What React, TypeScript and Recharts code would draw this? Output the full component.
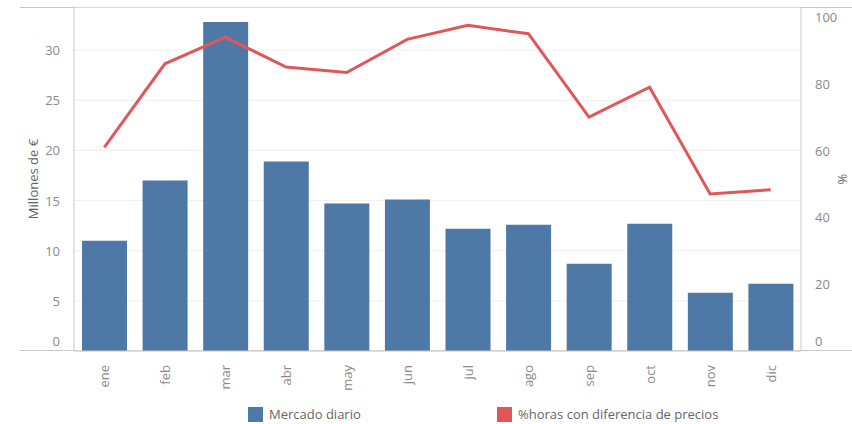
import {
  ComposedChart,
  Bar,
  Line,
  XAxis,
  YAxis,
  CartesianGrid,
  Legend,
} from "recharts";

const months = ["ene", "feb", "mar", "abr", "may", "jun", "jul", "ago", "sep", "oct", "nov", "dic"];
const mercadoDiario = [11.0, 17.0, 32.8, 18.9, 14.7, 15.1, 12.2, 12.6, 8.7, 12.7, 5.8, 6.7];
const horasDiferencia = [61, 86, 94, 85, 83.4, 93.3, 97.5, 95, 70, 79, 47, 48.3];
const leftTicks = [0, 5, 10, 15, 20, 25, 30];
const rightTicks = [0, 20, 40, 60, 80, 100];

const data = months.map((m, i) => ({
  month: m,
  mercado: mercadoDiario[i],
  horas: horasDiferencia[i],
}));

const FONT = "'Open Sans', sans-serif";
const BLUE = "#4e79a7";
const RED = "#e15759";
const AXIS = "#c8c8c8";
const TEXT = "#8a8a8a";

function LeftTick({ x, y, payload }: any) {
  const dy = payload.value === 0 ? -10 : 0;
  return (
    <text x={x - 6} y={y + dy} textAnchor="end" dominantBaseline="central" fill={TEXT} fontSize={13} fontFamily={FONT}>
      {payload.value}
    </text>
  );
}

function RightTick({ x, y, payload }: any) {
  const dy = payload.value === 0 ? -10 : 0;
  return (
    <text x={x + 6} y={y + dy} textAnchor="start" dominantBaseline="central" fill={TEXT} fontSize={13} fontFamily={FONT}>
      {payload.value}
    </text>
  );
}

function MonthTick({ x, y, payload }: any) {
  return (
    <text
      transform={`translate(${x},${y + 6}) rotate(-90)`}
      textAnchor="end"
      dominantBaseline="central"
      fill={TEXT}
      fontSize={13}
      fontFamily={FONT}
    >
      {payload.value}
    </text>
  );
}

function LegendContent() {
  const item = (color: string, label: string, left: number) => (
    <div style={{ position: "absolute", left, top: 0, display: "flex", alignItems: "center" }}>
      <div style={{ width: 15, height: 15, background: color, marginRight: 6 }} />
      <span style={{ fontSize: 13, color: "#666", fontFamily: FONT }}>{label}</span>
    </div>
  );
  return (
    <div style={{ position: "relative", height: 18 }}>
      {item(BLUE, "Mercado diario", 248)}
      {item(RED, "%horas con diferencia de precios", 497)}
    </div>
  );
}

export default function App() {
  return (
    <div style={{ position: "absolute", left: 0, top: 0, width: 852, height: 424, background: "#fff" }}>
      <div style={{ position: "absolute", left: 20, top: 7, width: 832, height: 1, background: AXIS }} />
      <div style={{ position: "absolute", left: 20, top: 350, width: 832, height: 1, background: AXIS }} />
      <ComposedChart
        width={852}
        height={424}
        data={data}
        margin={{ top: 7, right: 0, bottom: 0, left: 0 }}
        barCategoryGap={0}
      >
        <CartesianGrid yAxisId="left" vertical={false} stroke="#efefef" />
        <XAxis
          dataKey="month"
          height={55}
          tick={<MonthTick />}
          tickLine={false}
          axisLine={{ stroke: AXIS }}
          interval={0}
        />
        <YAxis
          yAxisId="left"
          width={74}
          domain={[0, 34.3]}
          ticks={leftTicks}
          tick={<LeftTick />}
          tickLine={false}
          axisLine={{ stroke: AXIS }}
          label={{
            value: "Millones de €",
            angle: -90,
            position: "insideLeft",
            offset: 33,
            fill: "#666",
            fontSize: 13,
            fontFamily: FONT,
            style: { textAnchor: "middle" },
          }}
        />
        <YAxis
          yAxisId="right"
          orientation="right"
          width={51}
          domain={[0, 103]}
          ticks={rightTicks}
          tick={<RightTick />}
          tickLine={false}
          axisLine={{ stroke: AXIS }}
          label={{
            value: "%",
            angle: -90,
            position: "insideRight",
            offset: 10,
            fill: "#666",
            fontSize: 13,
            fontFamily: FONT,
            style: { textAnchor: "middle" },
          }}
        />
        <Legend verticalAlign="bottom" align="left" content={<LegendContent />} wrapperStyle={{ left: 0, bottom: 1, width: 852 }} />
        <Bar yAxisId="left" dataKey="mercado" fill={BLUE} barSize={45} isAnimationActive={false} />
        <Line
          yAxisId="right"
          type="linear"
          dataKey="horas"
          stroke={RED}
          strokeWidth={3}
          dot={false}
          isAnimationActive={false}
        />
      </ComposedChart>
    </div>
  );
}
